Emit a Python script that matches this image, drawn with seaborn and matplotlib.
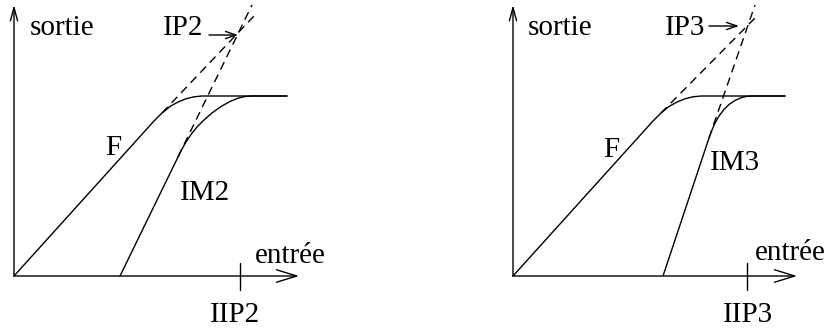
import matplotlib
matplotlib.use("Agg")
import matplotlib.pyplot as plt
import seaborn as sns

# Courbes (unites: entree / sortie, origine au coin des axes)
# Panneau gauche : IP2
f2_x = [0, 140, 148, 156, 164, 172, 180, 188, 273]
f2_y = [0, 155, 163, 169.5, 174, 177.2, 179.2, 180, 180]
f2_dash_x = [148, 240]
f2_dash_y = [163, 260]
im2_x = [106, 164, 168, 172, 177, 183, 190, 198, 207, 216, 224, 231, 238, 273]
im2_y = [0, 119, 127, 134, 141.5, 149, 156, 163, 169.5, 174.5, 177.8, 179.5, 180, 180]
im2_dash_x = [164, 238]
im2_dash_y = [119, 271]
iip2 = 226

# Panneau droit : IP3
f3_x = [0, 140, 148, 156, 164, 172, 180, 188, 272]
f3_y = [0, 155, 163, 169.5, 174, 177.2, 179.2, 180, 180]
f3_dash_x = [148, 242]
f3_dash_y = [163, 258]
im3_x = [150, 196, 199, 202, 206, 211, 216, 222, 228, 234, 240, 272]
im3_y = [0, 138, 146, 153, 160, 166.5, 171.5, 175.5, 178.3, 179.7, 180, 180]
im3_dash_x = [196, 242]
im3_dash_y = [138, 271]
iip3 = 234

sns.set_style("white")
plt.rcParams["font.family"] = ["Liberation Serif", "DejaVu Serif"]

fig = plt.figure(figsize=(8.28, 3.28), dpi=100)
ax1 = fig.add_axes([0, 0, 400 / 828, 1])
ax2 = fig.add_axes([414 / 828, 0, 414 / 828, 1])
ax1.set_xlim(-14, 386)
ax2.set_xlim(-99, 315)

txt = dict(fontsize=21, color="black", ha="left", va="baseline")
lw = 1.0


def arrow(ax, start, tip, hl, hw):
    ax.annotate("", xy=tip, xytext=start,
                arrowprops=dict(arrowstyle=f"->,head_length={hl},head_width={hw}",
                                lw=lw, color="black", shrinkA=0, shrinkB=0,
                                mutation_scale=10))


def panel(ax, fx, fy, fdx, fdy, ix, iy, idx, idy, iip, x_end, n, labels):
    ax.set_ylim(-52, 276)
    ax.axis("off")
    sns.lineplot(x=fx, y=fy, sort=False, estimator=None, color="black", lw=lw, ax=ax)
    sns.lineplot(x=ix, y=iy, sort=False, estimator=None, color="black", lw=lw, ax=ax)
    sns.lineplot(x=fdx, y=fdy, sort=False, estimator=None, color="black", lw=lw,
                 dashes=False, linestyle=(0, (6, 4)), ax=ax)
    sns.lineplot(x=idx, y=idy, sort=False, estimator=None, color="black", lw=lw,
                 dashes=False, linestyle=(0, (6, 4)), ax=ax)
    # axes avec fleches
    arrow(ax, (0, 0), (0, 271), 0.95, 0.26)
    arrow(ax, (0, 0), (x_end, 0), 1.45, 0.45)
    ax.plot([iip, iip], [13, -14], color="black", lw=lw)
    # fleche vers le point d'interception
    arrow(ax, labels["ip_arrow"][0], labels["ip_arrow"][1], 0.75, 0.26)
    ax.text(*labels["sortie"], "sortie", **txt)
    ax.text(*labels["entree"], "entrée", **txt)
    ax.text(*labels["F"], "F", **txt)
    ax.text(*labels["IM"], f"IM{n}", **txt)
    ax.text(*labels["IP"], f"IP{n}", **txt)
    ax.text(*labels["IIP"], f"IIP{n}", **txt)


panel(ax1, f2_x, f2_y, f2_dash_x, f2_dash_y, im2_x, im2_y, im2_dash_x, im2_dash_y,
      iip2, 285, 2,
      dict(sortie=(16, 241), entree=(241, 13), F=(91, 121), IM=(166, 76),
           IP=(149, 241), IIP=(196, -46), ip_arrow=((195, 241), (224, 241))))
panel(ax2, f3_x, f3_y, f3_dash_x, f3_dash_y, im3_x, im3_y, im3_dash_x, im3_dash_y,
      iip3, 284, 3,
      dict(sortie=(15, 241), entree=(242, 16), F=(90, 119), IM=(197, 106),
           IP=(152, 241), IIP=(210, -46), ip_arrow=((196, 250), (226, 250))))

fig.savefig("out.png", dpi=100)
